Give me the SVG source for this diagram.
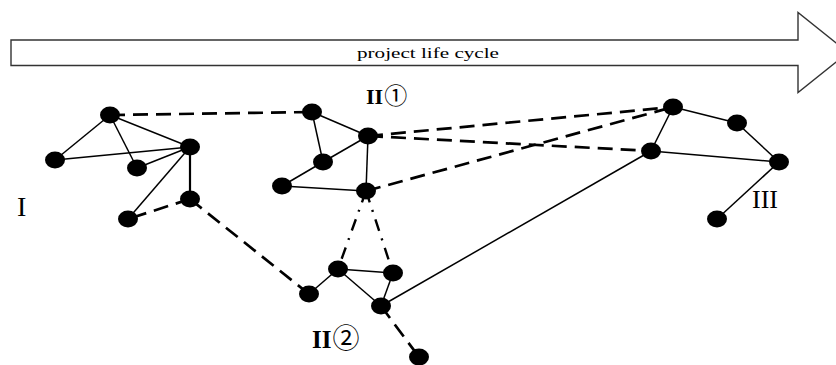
<svg xmlns="http://www.w3.org/2000/svg" width="836" height="365" viewBox="0 0 836 365">
  <style>
    .node { fill: #000; }
    .solid { stroke: #000; stroke-width: 1.5; fill: none; }
    .thick { stroke: #000; stroke-width: 2.2; fill: none; }
    .dash { stroke: #000; stroke-width: 2.7; fill: none; stroke-dasharray: 15 8; }
    .dashdot { stroke: #000; stroke-width: 2.4; fill: none; stroke-dasharray: 12 8 2 8; }
    .label { font-family: "Liberation Serif", "Noto Sans CJK SC", serif; fill: #000; }
    .roman { font-weight: bold; }
    .circled { font-family: "Noto Sans CJK SC", "DejaVu Sans", sans-serif; }
  </style>

  <!-- timeline arrow -->
  <g id="lifecycle-arrow">
    <path d="M11,40 H798 V12.5 L848,52.5 L798,92.5 V65.5 H11 Z" fill="#fff" stroke="#333" stroke-width="1.4"/>
    <text class="label" x="428" y="57.5" font-size="15" text-anchor="middle" textLength="142" lengthAdjust="spacingAndGlyphs">project life cycle</text>
  </g>

  <!-- connectors -->
  <g id="connectors">
    <!-- cluster I -->
    <line class="solid" x1="110" y1="115" x2="55" y2="160"/>
    <line class="solid" x1="110" y1="115" x2="137" y2="168"/>
    <line class="solid" x1="110" y1="115" x2="190" y2="147"/>
    <line class="solid" x1="55" y1="160" x2="190" y2="147"/>
    <line class="solid" x1="137" y1="168" x2="190" y2="147"/>
    <line class="thick" x1="190" y1="147" x2="190" y2="199"/>
    <line class="solid" x1="190" y1="147" x2="128" y2="219"/>
    <line class="dash" x1="190" y1="199" x2="128" y2="219"/>
    <!-- cluster II-1 -->
    <line class="solid" x1="312" y1="112" x2="368" y2="136"/>
    <line class="solid" x1="312" y1="112" x2="323" y2="162"/>
    <line class="solid" x1="323" y1="162" x2="368" y2="136"/>
    <line class="solid" x1="323" y1="162" x2="282" y2="186"/>
    <line class="solid" x1="282" y1="186" x2="366" y2="191"/>
    <line class="solid" x1="368" y1="136" x2="366" y2="191"/>
    <!-- cluster II-2 -->
    <line class="solid" x1="338" y1="269" x2="309" y2="294"/>
    <line class="solid" x1="338" y1="269" x2="393" y2="273"/>
    <line class="solid" x1="338" y1="269" x2="381" y2="306"/>
    <line class="solid" x1="393" y1="273" x2="381" y2="306"/>
    <!-- cluster III -->
    <line class="solid" x1="673" y1="107" x2="737" y2="123"/>
    <line class="solid" x1="737" y1="123" x2="779" y2="162"/>
    <line class="solid" x1="673" y1="107" x2="651" y2="151"/>
    <line class="solid" x1="651" y1="151" x2="779" y2="162"/>
    <line class="solid" x1="779" y1="162" x2="717" y2="219"/>
    <!-- links between clusters -->
    <line class="dash" x1="110" y1="115" x2="312" y2="112"/>
    <line class="dash" x1="190" y1="199" x2="309" y2="294"/>
    <line class="dash" x1="368" y1="136" x2="673" y2="107"/>
    <line class="dash" x1="368" y1="136" x2="651" y2="151"/>
    <line class="dash" x1="366" y1="191" x2="673" y2="107"/>
    <line class="dashdot" x1="366" y1="191" x2="338" y2="269"/>
    <line class="dashdot" x1="366" y1="191" x2="393" y2="273"/>
    <line class="dash" x1="381" y1="306" x2="419" y2="357"/>
    <line class="solid" x1="381" y1="306" x2="651" y2="151"/>
  </g>

  <!-- cluster I nodes -->
  <g id="n-I-a"><ellipse class="node" cx="110" cy="115" rx="10" ry="8.5"/></g>
  <g id="n-I-b"><ellipse class="node" cx="55" cy="160" rx="10" ry="8.5"/></g>
  <g id="n-I-c"><ellipse class="node" cx="137" cy="168" rx="10" ry="8.5"/></g>
  <g id="n-I-d"><ellipse class="node" cx="190" cy="147" rx="10" ry="8.5"/></g>
  <g id="n-I-e"><ellipse class="node" cx="190" cy="199" rx="10" ry="8.5"/></g>
  <g id="n-I-f"><ellipse class="node" cx="128" cy="219" rx="10" ry="8.5"/></g>

  <!-- cluster II-1 nodes -->
  <g id="n-II1-a"><ellipse class="node" cx="312" cy="112" rx="10" ry="8.5"/></g>
  <g id="n-II1-b"><ellipse class="node" cx="368" cy="136" rx="10" ry="8.5"/></g>
  <g id="n-II1-c"><ellipse class="node" cx="323" cy="162" rx="10" ry="8.5"/></g>
  <g id="n-II1-d"><ellipse class="node" cx="282" cy="186" rx="10" ry="8.5"/></g>
  <g id="n-II1-e"><ellipse class="node" cx="366" cy="191" rx="10" ry="8.5"/></g>

  <!-- cluster II-2 nodes -->
  <g id="n-II2-a"><ellipse class="node" cx="338" cy="269" rx="10" ry="8.5"/></g>
  <g id="n-II2-b"><ellipse class="node" cx="393" cy="273" rx="10" ry="8.5"/></g>
  <g id="n-II2-c"><ellipse class="node" cx="309" cy="294" rx="10" ry="8.5"/></g>
  <g id="n-II2-d"><ellipse class="node" cx="381" cy="306" rx="10" ry="8.5"/></g>
  <g id="n-II2-e"><ellipse class="node" cx="419" cy="357" rx="10" ry="8.5"/></g>

  <!-- cluster III nodes -->
  <g id="n-III-a"><ellipse class="node" cx="673" cy="107" rx="10" ry="8.5"/></g>
  <g id="n-III-b"><ellipse class="node" cx="737" cy="123" rx="10" ry="8.5"/></g>
  <g id="n-III-c"><ellipse class="node" cx="651" cy="151" rx="10" ry="8.5"/></g>
  <g id="n-III-d"><ellipse class="node" cx="779" cy="162" rx="10" ry="8.5"/></g>
  <g id="n-III-e"><ellipse class="node" cx="717" cy="219" rx="10" ry="8.5"/></g>

  <!-- cluster labels -->
  <g id="labels">
    <text class="label" x="17" y="216" font-size="28">I</text>
    <text class="label" x="366" y="104" font-size="22"><tspan class="roman">II</tspan><tspan class="circled" dx="1" font-size="23">①</tspan></text>
    <text class="label" x="312" y="348" font-size="25"><tspan class="roman">II</tspan><tspan class="circled" dx="1" font-size="27">②</tspan></text>
    <text class="label" x="752" y="208" font-size="26">III</text>
  </g>
</svg>
